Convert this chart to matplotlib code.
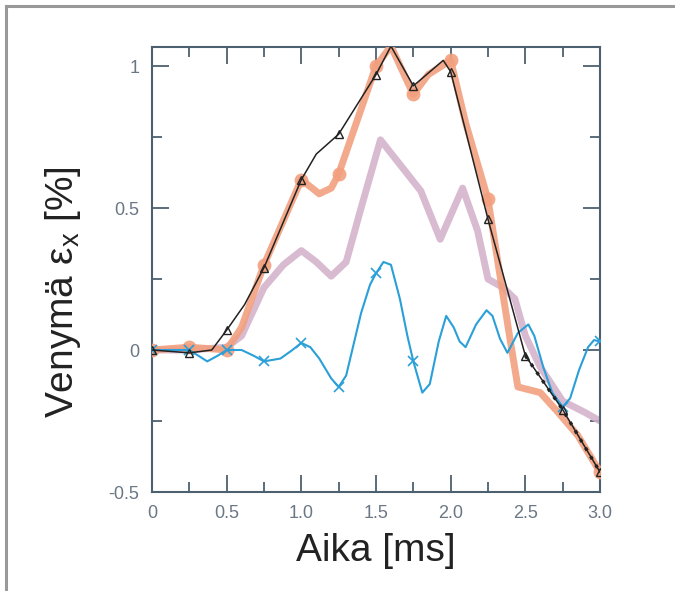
import numpy as np
import matplotlib.pyplot as plt
from matplotlib.lines import Line2D
from matplotlib.ticker import MultipleLocator

plt.rcParams['font.family'] = ['Liberation Sans', 'DejaVu Sans']
plt.rcParams['mathtext.fontset'] = 'custom'
plt.rcParams['mathtext.rm'] = 'Liberation Sans'

# ================= DATA =================
# black line, triangles
t_black = [0, 0.25, 0.4, 0.5, 0.62, 0.75, 1.0, 1.1, 1.25, 1.5, 1.6, 1.75, 1.95, 2.0, 2.25, 2.5, 2.75, 3.0]
v_black = [0, -0.01, 0.0, 0.07, 0.16, 0.29, 0.6, 0.69, 0.76, 0.97, 1.07, 0.93, 1.02, 0.98, 0.46, -0.02, -0.21, -0.43]

# thick orange line
t_orange = [0, 0.25, 0.5, 0.6, 0.75, 1.0, 1.12, 1.2, 1.25, 1.5, 1.6, 1.75, 1.85, 2.0, 2.1,
            2.25, 2.4, 2.45, 2.6, 2.72, 2.85, 3.0]
v_orange = [0, 0.01, 0.0, 0.08, 0.3, 0.6, 0.55, 0.57, 0.62, 1.0, 1.07, 0.9, 0.97, 1.02, 0.8,
            0.53, 0.03, -0.13, -0.15, -0.22, -0.3, -0.43]

# thick pink line
t_pink = [0, 0.25, 0.5, 0.6, 0.75, 0.88, 1.0, 1.1, 1.2, 1.3, 1.4, 1.53, 1.65, 1.8, 1.93, 2.08,
          2.18, 2.25, 2.35, 2.43, 2.5, 2.6, 2.75, 2.9, 3.0]
v_pink = [0, 0.0, 0.01, 0.05, 0.22, 0.3, 0.35, 0.31, 0.26, 0.31, 0.5, 0.74, 0.66, 0.56, 0.39, 0.57,
          0.42, 0.25, 0.22, 0.18, 0.05, -0.06, -0.18, -0.22, -0.25]

# blue line, crosses
t_blue = [0, 0.25, 0.31, 0.37, 0.44, 0.5, 0.6, 0.68, 0.75, 0.86, 0.94, 1.0, 1.06, 1.12, 1.2, 1.25,
          1.3, 1.4, 1.46, 1.5, 1.55, 1.6, 1.66, 1.71, 1.75, 1.81, 1.86, 1.92, 1.97, 2.02, 2.06,
          2.1, 2.17, 2.24, 2.28, 2.33, 2.38, 2.45, 2.52, 2.56, 2.62, 2.68, 2.75, 2.8, 2.86, 2.92, 2.96, 3.0]
v_blue = [0, 0, -0.02, -0.04, -0.02, 0.0, 0.0, -0.02, -0.04, -0.03, 0.0, 0.025, 0.01, -0.03, -0.1, -0.13,
          -0.09, 0.13, 0.23, 0.27, 0.31, 0.3, 0.18, 0.05, -0.04, -0.15, -0.12, 0.03, 0.12, 0.08, 0.03,
          0.01, 0.09, 0.14, 0.12, 0.04, -0.01, 0.06, 0.09, 0.05, -0.06, -0.15, -0.2, -0.17, -0.07, 0.01, 0.035, 0.03]

x_ticks = [0, 0.5, 1.0, 1.5, 2.0, 2.5, 3.0]
x_labels = ['0', '0.5', '1.0', '1.5', '2.0', '2.5', '3.0']
y_ticks = [-0.5, 0, 0.5, 1]
y_labels = ['-0.5', '0', '0.5', '1']


def quarter_idx(t):
    # markers sit on the 0.25 ms grid
    return [i for i, v in enumerate(t) if abs(v * 4 - round(v * 4)) < 1e-9]


# ================= PLOT =================
fig = plt.figure(figsize=(6.75, 5.91), dpi=100)
ax = fig.add_axes([0.2252, 0.1675, 0.6637, 0.7530])

spine_col = '#4d6070'

ax.plot(t_pink, v_pink, color='#d2afc8', lw=5, alpha=0.85, solid_capstyle='round',
        solid_joinstyle='round', zorder=2)
ax.plot(t_orange, v_orange, color='#f2a07e', lw=5, alpha=0.9, solid_capstyle='round',
        solid_joinstyle='round', marker='o', ms=10, markevery=quarter_idx(t_orange), mec='none', zorder=3)
ax.plot(t_blue, v_blue, color='#2a9fd8', lw=1.5, marker='x', ms=7, mew=1.2,
        markevery=quarter_idx(t_blue), zorder=4)
ax.plot(t_black, v_black, color='#222222', lw=1.1, marker='^', ms=6, mfc='none', mew=1.0,
        markevery=quarter_idx(t_black), zorder=5)
# dotted part at the end
tail = [i for i, v in enumerate(t_black) if v >= 2.45]
ax.plot([t_black[i] for i in tail], [v_black[i] for i in tail], color='#222222', lw=2.4,
        ls=(0, (1, 2)), zorder=5)

ax.set_xlim(0, 3.0)
ax.set_ylim(-0.5, 1.067)
ax.set_xticks(x_ticks)
ax.set_xticklabels(x_labels)
ax.set_yticks(y_ticks)
ax.set_yticklabels(y_labels)
ax.xaxis.set_minor_locator(MultipleLocator(0.25))
ax.yaxis.set_minor_locator(MultipleLocator(0.25))

ax.tick_params(which='both', direction='in', top=True, right=True, color=spine_col, width=1.3)
ax.tick_params(which='major', length=12, labelsize=13, labelcolor='#6b7785', pad=9)
ax.tick_params(which='minor', length=7)
for s in ax.spines.values():
    s.set_color(spine_col)
    s.set_linewidth(1.5)

ax.set_xlabel('Aika [ms]', fontsize=28, color='#222222', labelpad=8)
ax.set_ylabel('Venymä ε$_\\mathrm{x}$ [%]', fontsize=28, color='#222222')
ax.yaxis.set_label_coords(-0.155, 0.45)

# gray frame (top and left only)
fig.add_artist(Line2D([6 / 675, 1], [1 - 6 / 591, 1 - 6 / 591], color='#999999', lw=2.2,
                      transform=fig.transFigure))
fig.add_artist(Line2D([6 / 675, 6 / 675], [0, 1 - 6 / 591], color='#999999', lw=2.2,
                      transform=fig.transFigure))

plt.savefig('out.png', dpi=100)
